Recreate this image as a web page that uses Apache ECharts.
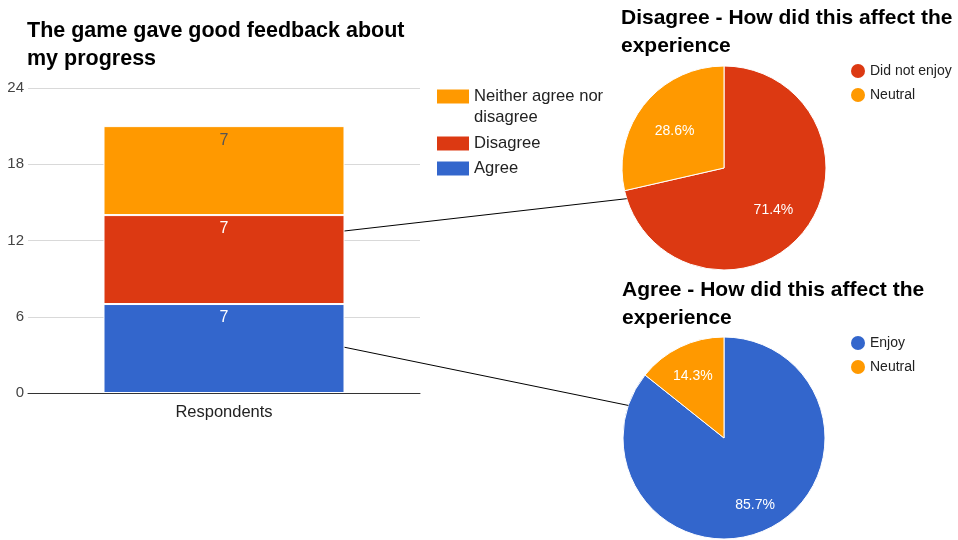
<!DOCTYPE html>
<html>
<head>
<meta charset="utf-8">
<script src="https://cdn.jsdelivr.net/npm/echarts@6/dist/echarts.min.js"></script>
<style>
  html, body { margin: 0; padding: 0; background: #fff; }
  #chart { width: 958px; height: 540px; }
</style>
</head>
<body>
<div id="chart"></div>
<script>
// Stacked bar: "The game gave good feedback about my progress"
const categories = ['Respondents'];
const agreeValues = [7];
const disagreeValues = [7];
const neitherValues = [7];
const yTicks = [0, 6, 12, 18, 24];

// Follow-up pies
const disagreeNames = ['Did not enjoy', 'Neutral'];
const disagreeCounts = [5, 2];
const agreeNames = ['Enjoy', 'Neutral'];
const agreeCounts = [6, 1];

const FONT = '"Liberation Sans", Arial, sans-serif';
const BLUE = '#3366cc', RED = '#dc3912', ORANGE = '#ff9900';

const PIE1 = { center: [724, 168], radius: 102, labelR: 0.62 };
const PIE2 = { center: [724, 438], radius: 101, labelR: 0.71 };

// place pie percentage labels at a fraction of the radius along each slice's mid-angle
function pieLabelLayout(counts, pie) {
  const total = counts.reduce((a, b) => a + b, 0);
  return function (params) {
    let before = 0;
    for (let i = 0; i < params.dataIndex; i++) before += counts[i];
    const mid = (before + counts[params.dataIndex] / 2) / total;
    const ang = Math.PI / 2 - mid * 2 * Math.PI; // start at 12 o'clock, clockwise
    const r = pie.radius * pie.labelR;
    return {
      x: pie.center[0] + r * Math.cos(ang),
      y: pie.center[1] - r * Math.sin(ang) + 3,
      align: 'center',
      verticalAlign: 'middle'
    };
  };
}

const chart = echarts.init(document.getElementById('chart'), null, { renderer: 'canvas' });

const titleStyle = { fontFamily: FONT, fontSize: 21, fontWeight: 'bold', color: '#000', lineHeight: 28 };
const barLegendText = { fontFamily: FONT, fontSize: 16.6, color: '#222', lineHeight: 21 };
const pieLegendText = { fontFamily: FONT, fontSize: 14, color: '#222', lineHeight: 16 };

const option = {
  backgroundColor: '#fff',
  animation: false,
  title: [
    { text: 'The game gave good feedback about\nmy progress', left: 27, top: 17, padding: 0,
      textStyle: Object.assign({}, titleStyle, { fontSize: 21.5 }) },
    { text: 'Disagree - How did this affect the\nexperience', left: 621, top: 4, padding: 0, textStyle: titleStyle },
    { text: 'Agree - How did this affect the\nexperience', left: 622, top: 276, padding: 0, textStyle: titleStyle }
  ],
  legend: [
    {
      // two-line entry: rich text with top padding keeps the swatch level with the first line
      data: ['Neither agree nor disagree'],
      orient: 'vertical', left: 437, top: 88, padding: 0,
      icon: 'rect', itemWidth: 32, itemHeight: 14, selectedMode: false,
      itemStyle: { borderWidth: 0 },
      formatter: () => '{a|Neither agree nor}\n{a|disagree}',
      textStyle: { padding: [21, 0, 0, 0], rich: { a: barLegendText } }
    },
    {
      data: ['Disagree', 'Agree'],
      orient: 'vertical', left: 437, top: 133, padding: 0, itemGap: 4,
      icon: 'rect', itemWidth: 32, itemHeight: 14, selectedMode: false,
      itemStyle: { borderWidth: 0 },
      textStyle: barLegendText
    },
    {
      data: disagreeNames,
      orient: 'vertical', left: 851, top: 63, padding: 0, itemGap: 8,
      icon: 'circle', itemWidth: 14, itemHeight: 14, selectedMode: false,
      itemStyle: { borderWidth: 0 },
      textStyle: pieLegendText
    },
    {
      data: agreeNames,
      orient: 'vertical', left: 851, top: 335, padding: 0, itemGap: 8,
      icon: 'circle', itemWidth: 14, itemHeight: 14, selectedMode: false,
      itemStyle: { borderWidth: 0 },
      textStyle: pieLegendText
    }
  ],
  grid: { left: 28, right: 538, top: 88, bottom: 147, containLabel: false },
  xAxis: {
    type: 'category',
    data: categories,
    axisTick: { show: false },
    axisLine: { lineStyle: { color: '#333', width: 1 } },
    axisLabel: { fontFamily: FONT, fontSize: 16.5, color: '#222', margin: 11 }
  },
  yAxis: {
    type: 'value',
    min: yTicks[0],
    max: yTicks[yTicks.length - 1],
    interval: yTicks[1] - yTicks[0],
    axisLine: { show: false },
    axisTick: { show: false },
    axisLabel: { fontFamily: FONT, fontSize: 15, color: '#444', margin: 4 },
    splitLine: { lineStyle: { color: '#d9d9d9', width: 1 } }
  },
  series: [
    {
      name: 'Agree', type: 'bar', stack: 'all', barWidth: 241, data: agreeValues,
      itemStyle: { color: BLUE, borderColor: '#fff', borderWidth: 1 },
      label: { show: true, position: 'insideTop', distance: 6, fontFamily: FONT, fontSize: 16, color: '#fff' }
    },
    {
      name: 'Disagree', type: 'bar', stack: 'all', barWidth: 241, data: disagreeValues,
      itemStyle: { color: RED, borderColor: '#fff', borderWidth: 1 },
      label: { show: true, position: 'insideTop', distance: 6, fontFamily: FONT, fontSize: 16, color: '#fff' }
    },
    {
      name: 'Neither agree nor disagree', type: 'bar', stack: 'all', barWidth: 241, data: neitherValues,
      itemStyle: { color: ORANGE, borderColor: '#fff', borderWidth: 1 },
      label: { show: true, position: 'insideTop', distance: 6, fontFamily: FONT, fontSize: 16, color: '#555' }
    },
    {
      name: 'Disagree - How did this affect the experience', type: 'pie',
      center: PIE1.center, radius: [0, PIE1.radius], startAngle: 90, clockwise: true,
      data: disagreeNames.map((n, i) => ({ name: n, value: disagreeCounts[i] })),
      color: [RED, ORANGE],
      itemStyle: { borderColor: '#fff', borderWidth: 1 },
      label: { show: true, position: 'inside', formatter: p => p.percent.toFixed(1) + '%', fontFamily: FONT, fontSize: 14, color: '#fff' },
      labelLine: { show: false },
      labelLayout: pieLabelLayout(disagreeCounts, PIE1),
      emphasis: { disabled: true }
    },
    {
      name: 'Agree - How did this affect the experience', type: 'pie',
      center: PIE2.center, radius: [0, PIE2.radius], startAngle: 90, clockwise: true,
      data: agreeNames.map((n, i) => ({ name: n, value: agreeCounts[i] })),
      color: [BLUE, ORANGE],
      itemStyle: { borderColor: '#fff', borderWidth: 1 },
      label: { show: true, position: 'inside', formatter: p => p.percent.toFixed(1) + '%', fontFamily: FONT, fontSize: 14, color: '#fff' },
      labelLine: { show: false },
      labelLayout: pieLabelLayout(agreeCounts, PIE2),
      emphasis: { disabled: true }
    }
  ]
};

chart.setOption(option);

// connector lines from the bar segments to the breakdown pies
function pieEdge(pie, deg) {
  const a = deg * Math.PI / 180;
  return [pie.center[0] + pie.radius * Math.cos(a), pie.center[1] - pie.radius * Math.sin(a)];
}
const barHalf = 241 / 2;
const fromDisagree = chart.convertToPixel({ gridIndex: 0 }, [categories[0], 12.75]);
const fromAgree = chart.convertToPixel({ gridIndex: 0 }, [categories[0], 3.6]);
const toDisagree = pieEdge(PIE1, 197.5);
const toAgree = pieEdge(PIE2, 161.2);

chart.setOption({
  graphic: [
    { type: 'line', z: 100, silent: true,
      shape: { x1: fromDisagree[0] + barHalf, y1: fromDisagree[1], x2: toDisagree[0], y2: toDisagree[1] },
      style: { stroke: '#000', lineWidth: 1 } },
    { type: 'line', z: 100, silent: true,
      shape: { x1: fromAgree[0] + barHalf, y1: fromAgree[1], x2: toAgree[0], y2: toAgree[1] },
      style: { stroke: '#000', lineWidth: 1 } }
  ]
});
</script>
</body>
</html>
